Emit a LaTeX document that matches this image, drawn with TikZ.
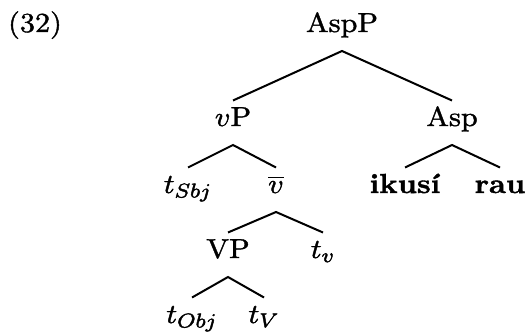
\documentclass[tikz,border=0pt]{standalone}
\usepackage{fontspec}
\setmainfont{Latin Modern Roman}[FakeStretch=1.1]
\usepackage{graphicx}

% math pieces widened to match the text font
\newcommand{\wmath}[1]{\scalebox{1.1}[1]{$#1$}}
% heavier glyphs, as in the printed tree
\newcommand{\inkon}{\special{pdf:literal direct 2 Tr 0.15 w}}
\newcommand{\inkoff}{\special{pdf:literal direct 0 Tr}}

\begin{document}
\begin{tikzpicture}[x=0.4pt,y=-0.4pt,
    cat/.style={inner sep=0pt,text height=10pt,text depth=7.4pt,anchor=base,
        font=\fontsize{11}{13}\selectfont,
        execute at begin node=\inkon,execute at end node=\inkoff},
    branch/.style={line width=0.8pt}]
    \useasboundingbox (0,0) rectangle (530,332);
    \node[cat] (ex) at (35,32) {(32)};
    % top
    \node[cat] (aspp) at (342,32) {AspP};
    \node[cat] (vp)   at (233,126) {\wmath{v}P};
    \node[cat] (asp)  at (452,126) {Asp};
    % vP and Asp daughters
    \node[cat] (tsbj)  at (188,193) {\wmath{t_{Sbj}}};
    \node[cat] (vbar)  at (276,193) {\wmath{\overline{v}}};
    \node[cat] (ikusi) at (405,193) {\textbf{ikusí}};
    \node[cat] (rau)   at (500,193) {\textbf{rau}};
    % vbar daughters
    \node[cat] (vpp) at (228,258) {VP};
    \node[cat] (tv)  at (323,258) {\wmath{t_v}};
    % VP daughters
    \node[cat] (tobj) at (192,323) {\wmath{t_{Obj}}};
    \node[cat] (tV)   at (264,323) {\wmath{t_V}};
    \draw[branch] (vp.north) -- (aspp.south) -- (asp.north);
    \draw[branch] (tsbj.north) -- (vp.south) -- (vbar.north);
    \draw[branch] (ikusi.north) -- (asp.south) -- (rau.north);
    \draw[branch] (vpp.north) -- (vbar.south) -- (tv.north);
    \draw[branch] (tobj.north) -- (vpp.south) -- (tV.north);
\end{tikzpicture}
\end{document}
